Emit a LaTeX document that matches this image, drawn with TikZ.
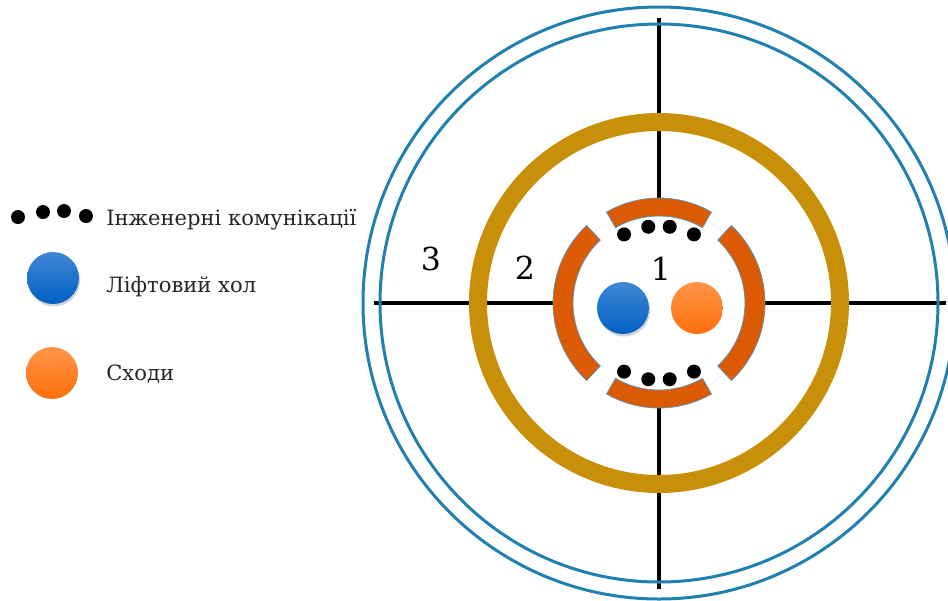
\documentclass[tikz,border=0pt]{standalone}
\usepackage{fontspec}
\setmainfont{DejaVu Serif}
\usetikzlibrary{positioning, shadows}
\definecolor{shellblue}{RGB}{32,128,176}
\definecolor{ringgold}{RGB}{200,144,8}
\definecolor{coreorange}{RGB}{220,90,4}
\definecolor{liftblue}{RGB}{0,96,196}
\definecolor{stairorange}{RGB}{255,112,12}
\tikzstyle{shell} = [draw=shellblue, line width=0.06cm]
\tikzstyle{wall} = [draw=black, line width=0.08cm]
\tikzstyle{core} = [fill=coreorange, draw=shellblue!80, line width=0.4pt]
\tikzstyle{duct} = [circle, fill=black, inner sep=0pt, minimum size=0.28cm]
\tikzstyle{lift} = [circle, inner sep=0pt, minimum size=1.04cm, top color=liftblue!75!white, bottom color=liftblue, drop shadow={shadow xshift=0.02cm, shadow yshift=-0.05cm, opacity=0.35}]
\tikzstyle{stair} = [circle, inner sep=0pt, minimum size=1.04cm, top color=stairorange!75!white, bottom color=stairorange]
\tikzstyle{zone} = [font=\fontsize{18}{22}\selectfont]
\tikzstyle{legendtext} = [anchor=base west, inner sep=0pt, font=\fontsize{12}{15}\selectfont, text=black!85]

\begin{document}
\begin{tikzpicture}[x=0.02cm, y=-0.02cm]
    \useasboundingbox (0,0) rectangle (948,600);
    \clip (0,0) rectangle (948,600);
    \coordinate (c) at (659,303);

    % Axes
    \coordinate (west) at (374,303);
    \coordinate (east) at (946,303);
    \coordinate (north) at (659,18);
    \coordinate (south) at (659,589);
    \draw [wall] (west) -- (east);
    \draw [wall] (north) -- (south);

    % Outer shell
    \draw [shell] (c) circle (296);
    \draw [shell] (c) circle (279);

    % Rings, in a frame centred on the core
    \begin{scope}[shift={(c)}, y=0.02cm]
        \draw [ringgold, line width=0.36cm] (0,0) circle (181);
        \filldraw [fill=white, draw=gray!35, densely dotted] (0,0) circle (96);
        \foreach \a/\b/\ri/\ro in {-47/47/86/106, 133/227/86/106, 60/120/87/105, 240/300/87/105}
            \filldraw [core] (\a:\ro) arc (\a:\b:\ro) -- (\b:\ri) arc (\b:\a:\ri) -- cycle;
        % Engineering ducts
        \foreach \a [count=\i] in {63,82,98,117,243,262,278,297}
            \node (duct\i) [duct] at (\a:77) {};
    \end{scope}

    % Lift hall and stairs
    \node (lift) [lift] at (623,308) {};
    \node (stair) [stair] at (697,308) {};

    % Zone numbers
    \node (z1) [zone] at (661,269) {1};
    \node (z2) [zone] at (525,268) {2};
    \node (z3) [zone] at (431,259) {3};

    % Legend
    \foreach \x/\y [count=\i] in {18/217, 43/212, 64/211, 86/216}
        \node (key\i) [duct] at (\x,\y) {};
    \node (keylift) [lift] at (53,278) {};
    \node (keystair) [stair] at (52,373) {};
    \node (ducttext) [legendtext] at (106,225) {Інженерні комунікації};
    \node (lifttext) [legendtext] at (106,292) {Ліфтовий хол};
    \node (stairtext) [legendtext] at (106,380) {Сходи};
\end{tikzpicture}
\end{document}
